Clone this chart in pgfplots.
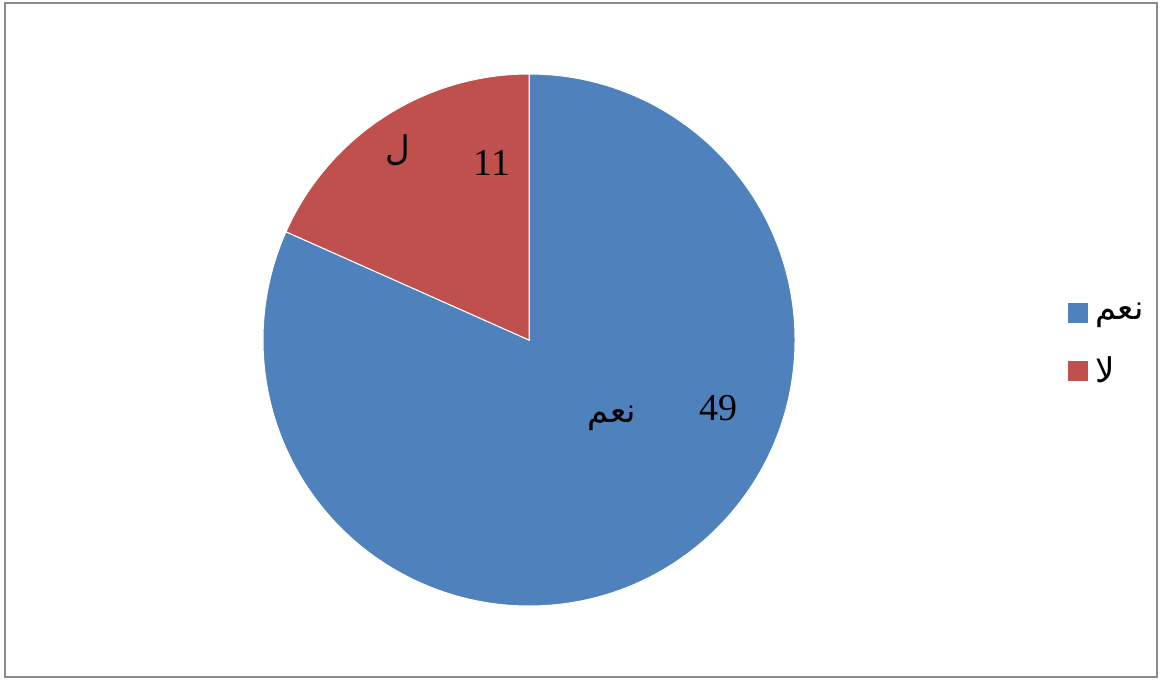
\documentclass[border=0pt]{standalone}
\usepackage{pgfplots}
\usepackage{pgfplotstable}
\pgfplotsset{compat=1.18}
\usepackage{fontspec}
\setmainfont{Liberation Serif}
\newfontfamily\arabicfont[Script=Arabic]{DejaVu Sans}
\TeXXeTstate=1
\definecolor{pieblue}{HTML}{4F81BD}
\definecolor{piered}{HTML}{C0504D}
\definecolor{frame}{HTML}{8C8C8C}
\pgfplotstableread{
slice value
1 49
2 11
}\piedata
\begin{document}
\begin{tikzpicture}
\pgfplotstablegetelem{0}{value}\of\piedata \let\valA\pgfplotsretval
\pgfplotstablegetelem{1}{value}\of\piedata \let\valB\pgfplotsretval
\pgfmathsetmacro\total{\valA+\valB}
\pgfmathsetmacro\angA{\valA/\total*360}
\pgfmathsetmacro\angB{\valB/\total*360}
\begin{axis}[
  width=580pt,height=340pt,scale only axis,
  xmin=0,xmax=1160,ymin=0,ymax=680,
  hide axis,clip=false,
  legend style={at={(axis cs:1062,336)},anchor=west,draw=none,fill=none,
    font=\fontsize{17}{20}\selectfont,row sep=13pt,
    /tikz/every even column/.append style={column sep=0pt}},
  legend cell align=left,
]
\addlegendimage{legend image code/.code={\fill[pieblue] (0pt,-4.75pt) rectangle (9.5pt,4.75pt);}}
\addlegendentry{\hspace{1.5pt}\arabicfont\beginR نعم\endR}
\addlegendimage{legend image code/.code={\fill[piered] (0pt,-4.75pt) rectangle (9.5pt,4.75pt);}}
\addlegendentry{\hspace{1.5pt}\arabicfont\beginR لا\endR}
\coordinate (bl) at (axis cs:0,0);
\coordinate (tr) at (axis cs:1160,680);
\draw[frame, line width=1pt] (axis cs:5,3) rectangle (axis cs:1157,677);
\filldraw[fill=pieblue, draw=white, line width=0.5pt] (axis cs:529,340) -- ++(90:133pt) arc[start angle=90, delta angle=-\angA, radius=133pt] -- cycle;
\filldraw[fill=piered, draw=white, line width=0.5pt] (axis cs:529,340) -- ++(90:133pt) arc[start angle=90, delta angle=\angB, radius=133pt] -- cycle;
\node[font=\fontsize{19}{22}\selectfont] at (axis cs:492,517) {11};
\node[font=\fontsize{17}{20}\selectfont] at (axis cs:398,530) {\arabicfont\beginR ل\endR};
\node[font=\fontsize{19}{22}\selectfont] at (axis cs:718,272) {49};
\node[font=\fontsize{17}{20}\selectfont] at (axis cs:612,262) {\arabicfont\beginR نعم\endR};
\end{axis}
\pgfresetboundingbox
\path[use as bounding box] (bl) rectangle (tr);
\end{tikzpicture}
\end{document}
